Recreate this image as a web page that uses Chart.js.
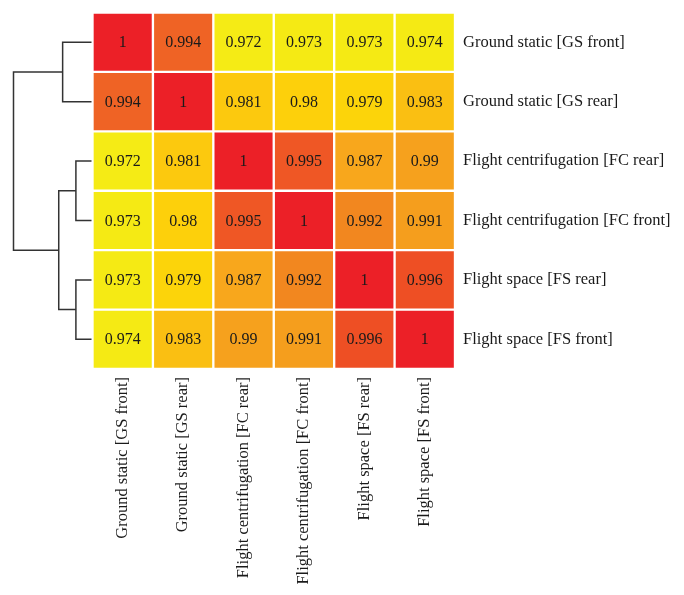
<!DOCTYPE html>
<html>
<head>
<meta charset="utf-8">
<script src="https://cdn.jsdelivr.net/npm/chart.js"></script>
<style>
  body { margin: 0; background: #fff; }
</style>
</head>
<body>
<canvas id="myChart" width="684" height="595"></canvas>
<script>
let sampleLabels = ["Ground static [GS front]", "Ground static [GS rear]", "Flight centrifugation [FC rear]",
                    "Flight centrifugation [FC front]", "Flight space [FS rear]", "Flight space [FS front]"];

let row1 = [1, 0.994, 0.972, 0.973, 0.973, 0.974];
let row2 = [0.994, 1, 0.981, 0.98, 0.979, 0.983];
let row3 = [0.972, 0.981, 1, 0.995, 0.987, 0.99];
let row4 = [0.973, 0.98, 0.995, 1, 0.992, 0.991];
let row5 = [0.973, 0.979, 0.987, 0.992, 1, 0.996];
let row6 = [0.974, 0.983, 0.99, 0.991, 0.996, 1];
let rows = [row1, row2, row3, row4, row5, row6];

// dendrogram merges: [left, right, height]; ids 0-5 are leaves, 6+ are merged clusters
let merges = [[4, 5, 0.2], [2, 3, 0.2], [0, 1, 0.37], [7, 6, 0.42], [8, 9, 1.0]];

let colorTable = {
    "1": "#EC2027", "0.996": "#EE4F24", "0.995": "#EF5725", "0.994": "#EF6325",
    "0.992": "#F2871F", "0.991": "#F59E1D", "0.99": "#F6A11D", "0.987": "#F8A71C",
    "0.983": "#FABF12", "0.981": "#FCC90E", "0.98": "#FDD00B", "0.979": "#FCD40A",
    "0.974": "#F5EA14", "0.973": "#F5EA14", "0.972": "#F5EB15"
};
function colorFor(v) { return colorTable[String(v)]; }

let datasets = rows.map(function (r, i) {
    return {
        data: r.map(function () { return [i, i + 1]; }),
        values: r,
        backgroundColor: r.map(colorFor),
        borderColor: "#ffffff",
        borderWidth: 1.5,
        borderSkipped: false,
        grouped: false,
        barPercentage: 1,
        categoryPercentage: 1
    };
});

let cellText = {
    id: "cellText",
    afterDatasetsDraw(chart) {
        let ctx = chart.ctx;
        ctx.save();
        ctx.font = "16px 'Liberation Serif'";
        ctx.fillStyle = "#1a1a1a";
        ctx.textAlign = "center";
        ctx.textBaseline = "middle";
        chart.data.datasets.forEach(function (ds, i) {
            chart.getDatasetMeta(i).data.forEach(function (el, j) {
                ctx.fillText(String(ds.values[j]), el.x, (el.y + el.base) / 2 + 1);
            });
        });
        ctx.restore();
    }
};

let dendrogram = {
    id: "dendrogram",
    afterDraw(chart) {
        let ctx = chart.ctx;
        let yScale = chart.scales.y;
        let right = chart.chartArea.left - 1;
        let width = 78;
        let nodes = sampleLabels.map(function (l, i) {
            return { x: right, y: yScale.getPixelForValue(i + 0.5) };
        });
        ctx.save();
        ctx.strokeStyle = "#333";
        ctx.lineWidth = 1.5;
        merges.forEach(function (m) {
            let a = nodes[m[0]], b = nodes[m[1]];
            let x = right - m[2] * width;
            ctx.beginPath();
            ctx.moveTo(a.x, a.y);
            ctx.lineTo(x, a.y);
            ctx.lineTo(x, b.y);
            ctx.lineTo(b.x, b.y);
            ctx.stroke();
            nodes.push({ x: x, y: (a.y + b.y) / 2 });
        });
        ctx.restore();
    }
};

let myChart = document.getElementById("myChart").getContext("2d");

let chart = new Chart(myChart, {
    type: "bar",
    data: {
        labels: sampleLabels,
        datasets: datasets
    },
    options: {
        responsive: false,
        animation: false,
        layout: { padding: { left: 92.5, top: 12.5, right: 0, bottom: 0 } },
        plugins: {
            legend: { display: false },
            tooltip: { enabled: false }
        },
        scales: {
            x: {
                grid: { display: false },
                border: { display: false },
                ticks: {
                    autoSkip: false,
                    maxRotation: 90,
                    minRotation: 90,
                    padding: 0,
                    color: "#1a1a1a",
                    font: { family: "'Liberation Serif'", size: 16.5 }
                },
                afterFit(axis) { axis.height = 226; }
            },
            y: {
                position: "right",
                reverse: true,
                min: 0,
                max: 6,
                grid: { display: false, drawTicks: false },
                border: { display: false },
                afterBuildTicks(axis) {
                    axis.ticks = sampleLabels.map(function (l, i) { return { value: i + 0.5 }; });
                },
                ticks: {
                    padding: 8,
                    color: "#1a1a1a",
                    font: { family: "'Liberation Serif'", size: 16.5 },
                    callback(value) { return sampleLabels[Math.floor(value)]; }
                },
                afterFit(axis) {
                    axis.width = 229;
                    axis.paddingTop = 0;
                    axis.paddingBottom = 0;
                }
            }
        }
    },
    plugins: [cellText, dendrogram]
});
</script>
</body>
</html>
